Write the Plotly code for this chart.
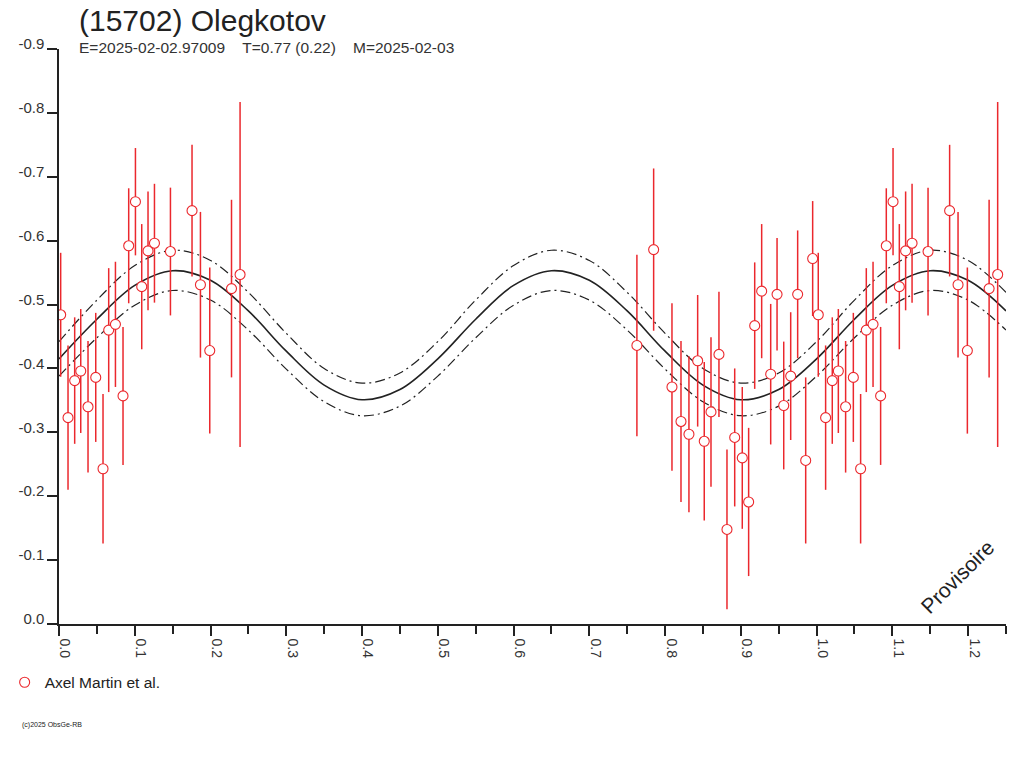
import numpy as np
import plotly.graph_objects as go

# Photometry (phase, reduced magnitude, 1-sigma error)
phase = [0.0022, 0.0119, 0.0207, 0.0287, 0.0383, 0.0485, 0.0581, 0.0656, 0.0745, 0.0845,
         0.0920, 0.1009, 0.1092, 0.1175, 0.1260, 0.1471, 0.1756, 0.1867, 0.1990, 0.2277,
         0.2390, 0.7628, 0.7849, 0.8091, 0.8210, 0.8315, 0.8430, 0.8517, 0.8606, 0.8711,
         0.8817, 0.8919, 0.9019, 0.9103, 0.9183, 0.9275, 0.9394, 0.9478, 0.9566, 0.9658,
         0.9750, 0.9856, 0.9948]
mag = [-0.484, -0.323, -0.381, -0.396, -0.340, -0.386, -0.243, -0.460, -0.469, -0.357,
       -0.592, -0.661, -0.528, -0.584, -0.596, -0.583, -0.647, -0.531, -0.428, -0.525,
       -0.547, -0.436, -0.586, -0.371, -0.317, -0.297, -0.412, -0.286, -0.332, -0.422,
       -0.148, -0.292, -0.260, -0.191, -0.467, -0.521, -0.391, -0.516, -0.342, -0.388,
       -0.516, -0.256, -0.572]
err = [0.097, 0.113, 0.099, 0.097, 0.103, 0.101, 0.117, 0.097, 0.098, 0.108,
       0.090, 0.084, 0.098, 0.093, 0.093, 0.100, 0.103, 0.114, 0.130, 0.139,
       0.270, 0.142, 0.127, 0.131, 0.126, 0.122, 0.103, 0.124, 0.117, 0.098,
       0.125, 0.108, 0.111, 0.116, 0.099, 0.105, 0.110, 0.088, 0.100, 0.100,
       0.100, 0.130, 0.090]

# Fourier fit and its uncertainty band, sampled every 0.05 in phase
fit_phase = [0.00, 0.05, 0.10, 0.15, 0.20, 0.25, 0.30, 0.35, 0.40, 0.45,
             0.50, 0.55, 0.60, 0.65, 0.70, 0.75, 0.80, 0.85, 0.90, 0.95,
             1.00, 1.05, 1.10, 1.15, 1.20, 1.25]
fit_mid = [-0.415, -0.477, -0.530, -0.553, -0.538, -0.490, -0.427, -0.374, -0.351, -0.367,
           -0.415, -0.477, -0.530, -0.553, -0.538, -0.490, -0.427, -0.374, -0.351, -0.367,
           -0.415, -0.477, -0.530, -0.553, -0.538, -0.490]
fit_hi = [-0.442, -0.507, -0.561, -0.585, -0.569, -0.519, -0.455, -0.400, -0.377, -0.393,
          -0.442, -0.507, -0.561, -0.585, -0.569, -0.519, -0.455, -0.400, -0.377, -0.393,
          -0.442, -0.507, -0.561, -0.585, -0.569, -0.519]
fit_lo = [-0.388, -0.448, -0.499, -0.522, -0.507, -0.460, -0.399, -0.348, -0.326, -0.341,
          -0.388, -0.448, -0.499, -0.522, -0.507, -0.460, -0.399, -0.348, -0.326, -0.341,
          -0.388, -0.448, -0.499, -0.522, -0.507, -0.460]

x_ticks = [0.0, 0.1, 0.2, 0.3, 0.4, 0.5, 0.6, 0.7, 0.8, 0.9, 1.0, 1.1, 1.2]
x_labels = ["0.0", "0.1", "0.2", "0.3", "0.4", "0.5", "0.6", "0.7", "0.8", "0.9", "1.0", "1.1", "1.2"]
y_ticks = [-0.9, -0.8, -0.7, -0.6, -0.5, -0.4, -0.3, -0.2, -0.1, 0.0]
y_labels = ["-0.9", "-0.8", "-0.7", "-0.6", "-0.5", "-0.4", "-0.3", "-0.2", "-0.1", "0.0"]

FONT = "Liberation Sans, Arial, sans-serif"
RED = "rgb(235,40,45)"
INK = "#222222"

# points are repeated one cycle later where that still fits the axis
ph = np.array(phase)
mg = np.array(mag)
er = np.array(err)
wrap = ph + 1 <= 1.25
xs = np.concatenate([ph, ph[wrap] + 1])
ys = np.concatenate([mg, mg[wrap]])
es = np.concatenate([er, er[wrap]])

fig = go.Figure()

fig.add_trace(go.Scatter(
    x=fit_phase, y=fit_hi, mode="lines", line=dict(color=INK, width=1.2, dash="10px,4px,2px,4px", shape="spline"),
    showlegend=False, hoverinfo="skip"))
fig.add_trace(go.Scatter(
    x=fit_phase, y=fit_lo, mode="lines", line=dict(color=INK, width=1.2, dash="10px,4px,2px,4px", shape="spline"),
    showlegend=False, hoverinfo="skip"))
fig.add_trace(go.Scatter(
    x=fit_phase, y=fit_mid, mode="lines", line=dict(color=INK, width=1.6, shape="spline"),
    showlegend=False, hoverinfo="skip"))

fig.add_trace(go.Scatter(
    x=xs, y=ys, mode="markers", name="Axel Martin et al.",
    marker=dict(symbol="circle", size=10, color="white", line=dict(color=RED, width=1.1)),
    error_y=dict(type="data", array=es, color=RED, thickness=1.5, width=0),
    showlegend=True))

fig.update_layout(
    width=1024, height=768,
    paper_bgcolor="white", plot_bgcolor="white",
    margin=dict(l=59, r=18, t=49, b=144, pad=0, autoexpand=False),
    font=dict(family=FONT, color=INK),
    xaxis=dict(
        range=[0, 1.25], showgrid=False, zeroline=False, automargin=False,
        showline=True, linecolor=INK, linewidth=1.5,
        tickmode="array", tickvals=x_ticks, ticktext=x_labels,
        ticks="outside", ticklen=10, tickwidth=1.5, tickcolor=INK,
        tickangle=90, ticklabelshift=6,
        tickfont=dict(size=14, color="#333333", family=FONT),
        minor=dict(tickmode="linear", tick0=0.05, dtick=0.1, ticks="outside",
                   ticklen=8, tickwidth=1.5, tickcolor=INK),
    ),
    yaxis=dict(
        range=[0, -0.9], showgrid=False, zeroline=False, automargin=False,
        showline=True, linecolor=INK, linewidth=1.5,
        tickmode="array", tickvals=y_ticks, ticktext=y_labels,
        ticks="outside", ticklen=10, tickwidth=1.5, tickcolor=INK,
        ticklabelshift=5,
        tickfont=dict(size=15, color="#333333", family=FONT),
    ),
    legend=dict(x=-0.0574, xanchor="left", y=-0.0725, yanchor="top",
                font=dict(size=15.5, color=INK, family=FONT),
                bgcolor="rgba(0,0,0,0)", itemwidth=30),
    shapes=[
        # x axis line runs on under the y tick marks
        dict(type="line", xref="paper", yref="paper", x0=-0.0106, x1=0, y0=0, y1=0,
             line=dict(color=INK, width=1.5)),
    ],
    annotations=[
        dict(text="(15702) Olegkotov", xref="paper", yref="paper", x=0.0195, y=1.05,
             xanchor="left", yanchor="middle", showarrow=False,
             font=dict(size=30, color=INK, family=FONT)),
        dict(text="E=2025-02-02.97009\u00a0\u00a0\u00a0\u00a0T=0.77 (0.22)\u00a0\u00a0\u00a0\u00a0M=2025-02-03",
             xref="paper", yref="paper", x=0.0195, y=1.002,
             xanchor="left", yanchor="middle", showarrow=False,
             font=dict(size=15.5, color="#333333", family=FONT)),
        dict(text="Provisoire", xref="paper", yref="paper", x=0.949, y=0.082,
             xanchor="center", yanchor="middle", showarrow=False, textangle=-45,
             font=dict(size=21, color=INK, family=FONT)),
        dict(text="(c)2025 ObsGe-RB", xref="paper", yref="paper", x=-0.0415, y=-0.175,
             xanchor="left", yanchor="middle", showarrow=False,
             font=dict(size=7, color=INK, family=FONT)),
    ],
)

# drop the page's default body margin so the figure sits at the window corner
fig.write_html("out.html", config={"displayModeBar": False},
               post_script="document.body.style.margin='0';document.body.style.overflow='hidden';")
